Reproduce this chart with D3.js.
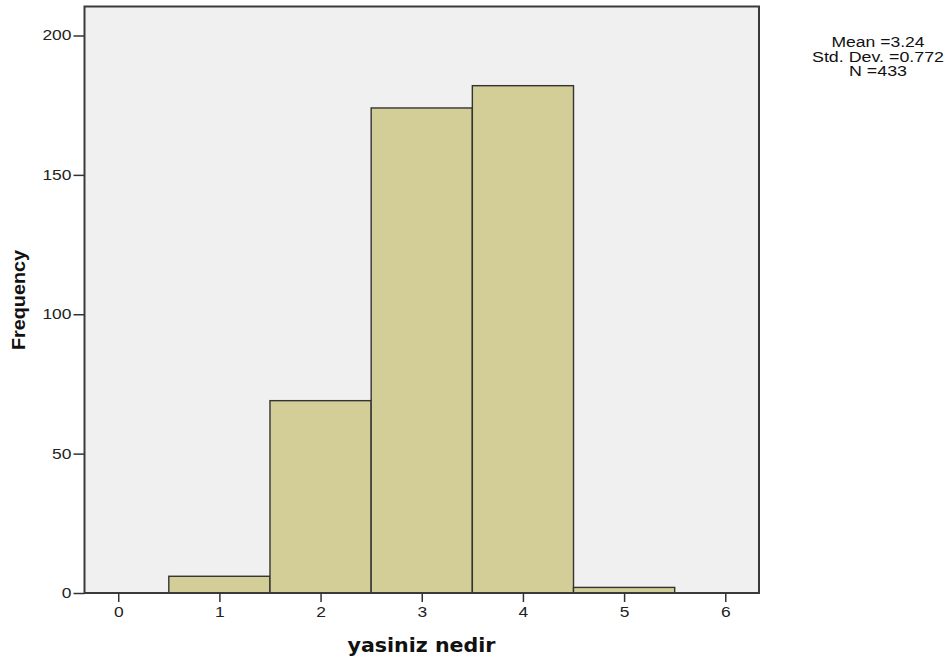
<!DOCTYPE html>
<html>
<head>
<meta charset="utf-8">
<script src="https://cdn.jsdelivr.net/npm/d3@7"></script>
<style>
  html, body { margin: 0; padding: 0; background: #fff; }
  svg { display: block; }
</style>
</head>
<body>
<svg id="chart" width="951" height="662"></svg>
<script>
// ---- data ----
const binCenters = [1, 2, 3, 4, 5];
const frequencies = [6, 69, 174, 182, 2];
const xTicks = [0, 1, 2, 3, 4, 5, 6];
const yTicks = [0, 50, 100, 150, 200];
const statLines = ["Mean =3.24", "Std. Dev. =0.772", "N =433"];
const xTitle = "yasiniz nedir";
const yTitle = "Frequency";

const svg = d3.select("#chart");
const L = 84.5, R = 759, T = 6.5, B = 593;

const x = d3.scaleLinear().domain([-1/3, 19/3]).range([L, R]);
const y = d3.scaleLinear().domain([0, (B - T) / ((B - 35.5) / 200)]).range([B, T]);

// plot background
svg.append("rect")
  .attr("x", L).attr("y", T).attr("width", R - L).attr("height", B - T)
  .attr("fill", "#f0f0f0");

// bars
svg.append("g").selectAll("rect")
  .data(binCenters.map((c, i) => ({c, f: frequencies[i]})))
  .join("rect")
  .attr("x", d => x(d.c - 0.5))
  .attr("width", d => x(d.c + 0.5) - x(d.c - 0.5))
  .attr("y", d => y(d.f))
  .attr("height", d => y(0) - y(d.f))
  .attr("fill", "#d3ce97")
  .attr("stroke", "#333")
  .attr("stroke-width", 1.4);

// frame
svg.append("rect")
  .attr("x", L).attr("y", T).attr("width", R - L).attr("height", B - T)
  .attr("fill", "none").attr("stroke", "#3a3a3a").attr("stroke-width", 2);

const digitW = 9.7;

// y axis
const yAxis = svg.append("g")
  .attr("transform", `translate(${L},0)`)
  .call(d3.axisLeft(y).tickValues(yTicks).tickSize(11).tickPadding(2).tickFormat(d3.format("d")));
yAxis.select(".domain").remove();
yAxis.selectAll(".tick line").attr("stroke", "#333").attr("stroke-width", 1.5);
yAxis.selectAll(".tick text")
  .attr("font-family", "'Liberation Sans', Arial, sans-serif")
  .attr("font-size", 14)
  .attr("fill", "#222")
  .attr("textLength", d => String(d).length * digitW)
  .attr("lengthAdjust", "spacingAndGlyphs");

// x axis
const xAxis = svg.append("g")
  .attr("transform", `translate(0,${B})`)
  .call(d3.axisBottom(x).tickValues(xTicks).tickSize(9).tickPadding(5).tickFormat(d3.format("d")));
xAxis.select(".domain").remove();
xAxis.selectAll(".tick line").attr("stroke", "#333").attr("stroke-width", 1.5);
xAxis.selectAll(".tick text")
  .attr("font-family", "'Liberation Sans', Arial, sans-serif")
  .attr("font-size", 14)
  .attr("fill", "#222")
  .attr("textLength", d => String(d).length * digitW)
  .attr("lengthAdjust", "spacingAndGlyphs");

// axis titles
svg.append("text")
  .attr("x", (347 + 496) / 2).attr("y", 652)
  .attr("text-anchor", "middle")
  .attr("font-family", "'DejaVu Sans', Verdana, sans-serif")
  .attr("font-weight", "bold")
  .attr("font-size", 19)
  .attr("fill", "#111")
  .attr("textLength", 148)
  .attr("lengthAdjust", "spacingAndGlyphs")
  .text(xTitle);

svg.append("text")
  .attr("transform", "translate(25,300) rotate(-90)")
  .attr("text-anchor", "middle")
  .attr("font-family", "'Liberation Sans', Arial, sans-serif")
  .attr("font-weight", "bold")
  .attr("font-size", 18)
  .attr("fill", "#111")
  .attr("textLength", 100)
  .attr("lengthAdjust", "spacingAndGlyphs")
  .text(yTitle);

// stats block
const statWidths = [93, 132, 58];
const statBaselines = [47, 61.5, 76];
svg.append("g").selectAll("text")
  .data(statLines)
  .join("text")
  .attr("x", 878)
  .attr("y", (d, i) => statBaselines[i])
  .attr("text-anchor", "middle")
  .attr("font-family", "'Liberation Sans', Arial, sans-serif")
  .attr("font-size", 14)
  .attr("fill", "#111")
  .attr("textLength", (d, i) => statWidths[i])
  .attr("lengthAdjust", "spacingAndGlyphs")
  .text(d => d);
</script>
</body>
</html>
